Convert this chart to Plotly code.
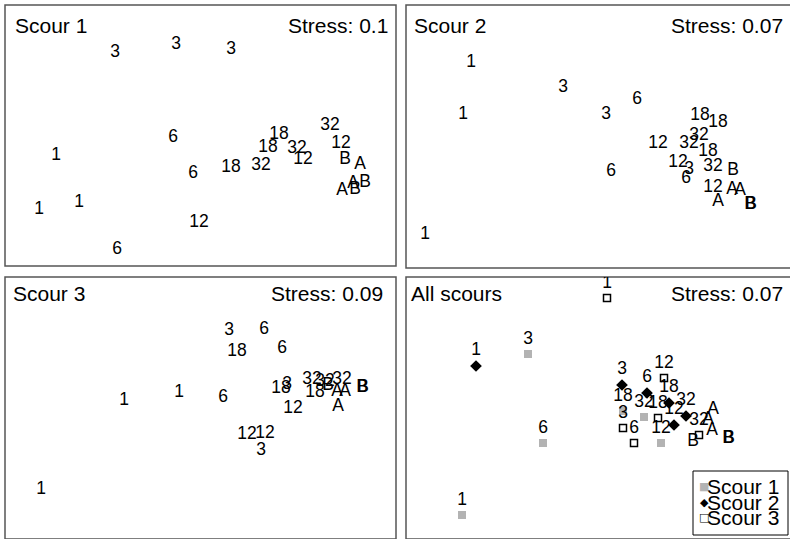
import plotly.graph_objects as go

W, H = 790, 539
FONT = "Liberation Sans, Arial, Helvetica, sans-serif"

# ---------------- data (NMDS coordinates) ----------------
labels = ["1", "1", "1", "3", "3", "3", "6", "6", "6", "12", "12", "12",
          "18", "18", "18", "32", "32", "32", "A", "A", "A", "B", "B", "B"]

s1_x = [0.51, 0.34, 0.74, 1.10, 1.71, 2.26, 1.68, 1.88, 1.12, 2.98, 3.36, 1.94,
        2.26, 2.74, 2.63, 2.56, 2.92, 3.25, 3.55, 3.37, 3.48, 3.40, 3.50, 3.60]
s1_y = [1.13, 0.59, 0.66, 2.16, 2.24, 2.19, 1.31, 0.95, 0.19, 1.09, 1.25, 0.46,
        1.01, 1.34, 1.21, 1.03, 1.20, 1.43, 1.04, 0.78, 0.85, 1.09, 0.79, 0.86]

s2_x = [0.65, 0.57, 0.19, 1.57, 2.00, 2.83, 2.31, 2.05, 2.80, 2.52, 2.72, 3.07,
        2.94, 3.12, 3.02, 2.83, 2.93, 3.07, 3.26, 3.34, 3.12, 3.27, 3.44, 3.45]
s2_y = [2.08, 1.56, 0.36, 1.83, 1.56, 1.01, 1.71, 0.99, 0.92, 1.27, 1.08, 0.83,
        1.55, 1.48, 1.19, 1.27, 1.35, 1.04, 0.81, 0.80, 0.69, 1.00, 0.66, 0.66]

s3_x = [1.19, 1.74, 0.36, 2.24, 2.82, 2.56, 2.59, 2.77, 2.18, 2.88, 2.42, 2.60,
        2.32, 2.76, 3.10, 3.07, 3.20, 3.37, 3.32, 3.40, 3.33, 3.23, 3.57, 3.58]
s3_y = [1.41, 1.49, 0.52, 2.11, 1.57, 0.91, 2.12, 1.93, 1.44, 1.33, 1.07, 1.08,
        1.90, 1.53, 1.49, 1.62, 1.60, 1.62, 1.50, 1.50, 1.35, 1.56, 1.54, 1.54]

# all scours ordination
times = ["1", "3", "6", "12", "18", "32"]
all_s1_x = [0.56, 1.22, 1.37, 2.55, 2.17, 2.38]
all_s1_y = [0.25, 1.86, 0.97, 0.97, 1.29, 1.23]
all_s2_x = [0.70, 2.16, 2.41, 2.68, 2.63, 2.80]
all_s2_y = [1.74, 1.55, 1.47, 1.15, 1.37, 1.24]
all_s3_x = [2.01, 2.17, 2.28, 2.58, 2.52, 2.93]
all_s3_y = [2.42, 1.12, 0.97, 1.62, 1.22, 1.05]
ref_labels = ["A", "A", "A", "B", "B", "B"]
ref_x = [3.07, 3.02, 3.06, 2.87, 3.22, 3.23]
ref_y = [1.30, 1.20, 1.09, 0.98, 1.01, 1.01]

panel_titles = ["Scour 1", "Scour 2", "Scour 3", "All scours"]
stress = ["0.1", "0.07", "0.09", "0.07"]
legend_names = ["Scour 1", "Scour 2", "Scour 3"]

# ---------------- layout geometry (pixels) ----------------
boxes = [(5, 5, 396, 266), (406, 5, 797, 268), (5, 277, 396, 539), (406, 277, 797, 539)]
y_shift = [0.03, 0.03, 0.03, 0.01]
title_pos = [(13, 26), (412, 26), (11, 293), (409, 293)]
stress_pos = [(390, 26), (785, 26), (385, 293), (785, 293)]

GREY = "#b3b3b3"
BORDER = "#555555"


def px(x):
    return x / W


def py(y):
    return (H - y) / H


fig = go.Figure()

layout_axes = {}
for i, (l, t, r, b) in enumerate(boxes):
    n = "" if i == 0 else str(i + 1)
    rr = min(r, W)
    layout_axes["xaxis" + n] = dict(domain=[px(l), px(rr)], range=[0, (rr - l) / 100],
                                    visible=False, fixedrange=True, anchor="y" + n)
    layout_axes["yaxis" + n] = dict(domain=[py(b), py(t)],
                                    range=[y_shift[i], (b - t) / 100 + y_shift[i]],
                                    visible=False, fixedrange=True, anchor="x" + n)

txt = dict(family=FONT, size=17.5, color="#000000")

for i, (xs, ys) in enumerate([(s1_x, s1_y), (s2_x, s2_y), (s3_x, s3_y)]):
    n = "" if i == 0 else str(i + 1)
    fig.add_trace(go.Scatter(x=xs, y=ys, text=labels, mode="text", textfont=txt,
                             textposition="middle center", showlegend=False,
                             xaxis="x" + n, yaxis="y" + n, hoverinfo="text"))

markers = [
    dict(symbol="square", size=8, color=GREY),
    dict(symbol="diamond", size=9, color="#000000"),
    dict(symbol="square-open", size=7, color="#000000", line=dict(width=1.5, color="#000000")),
]
for nm, xs, ys, mk in zip(legend_names, [all_s1_x, all_s2_x, all_s3_x],
                          [all_s1_y, all_s2_y, all_s3_y], markers):
    fig.add_trace(go.Scatter(x=xs, y=ys, text=times, mode="markers+text", name=nm,
                             marker=mk, textfont=txt, textposition="top center",
                             showlegend=False, xaxis="x4", yaxis="y4"))
fig.add_trace(go.Scatter(x=ref_x, y=ref_y, text=ref_labels, mode="text", textfont=txt,
                         showlegend=False, xaxis="x4", yaxis="y4"))

shapes = []
for (l, t, r, b) in boxes:
    shapes.append(dict(type="rect", xref="paper", yref="paper", x0=px(l), x1=px(r),
                       y0=py(b), y1=py(t), line=dict(color=BORDER, width=1.5),
                       fillcolor="rgba(0,0,0,0)", layer="below"))

# legend box
shapes.append(dict(type="rect", xref="paper", yref="paper", x0=px(693), x1=px(788),
                   y0=py(535), y1=py(471), line=dict(color="#000000", width=1),
                   fillcolor="#ffffff", layer="above"))

annotations = []
for i in range(4):
    annotations.append(dict(text=panel_titles[i], x=px(title_pos[i][0]), y=py(title_pos[i][1]),
                            xref="paper", yref="paper", xanchor="left", yanchor="middle",
                            showarrow=False, font=dict(family=FONT, size=21, color="#000")))
    annotations.append(dict(text="Stress: " + stress[i], x=px(stress_pos[i][0]),
                            y=py(stress_pos[i][1]), xref="paper", yref="paper",
                            xanchor="right", yanchor="middle", showarrow=False,
                            font=dict(family=FONT, size=21, color="#000")))

sym_text = ["<span style='color:%s'>■</span>" % GREY, "◆", "□"]
leg_y = [486, 502, 517]
for s, nm, yy in zip(sym_text, legend_names, leg_y):
    annotations.append(dict(text=s, x=px(704), y=py(yy), xref="paper", yref="paper",
                            xanchor="center", yanchor="middle", showarrow=False,
                            font=dict(family="DejaVu Sans", size=11, color="#000")))
    annotations.append(dict(text=nm, x=px(705), y=py(yy), xref="paper", yref="paper",
                            xanchor="left", yanchor="middle", showarrow=False,
                            font=dict(family=FONT, size=21, color="#000")))

fig.update_layout(width=W, height=H, margin=dict(l=0, r=0, t=0, b=0),
                  paper_bgcolor="white", plot_bgcolor="white",
                  shapes=shapes, annotations=annotations, showlegend=False,
                  **layout_axes)

fig.write_html("out.html", config={"displayModeBar": False},
               post_script="document.body.style.margin='0';document.body.style.overflow='hidden';")
